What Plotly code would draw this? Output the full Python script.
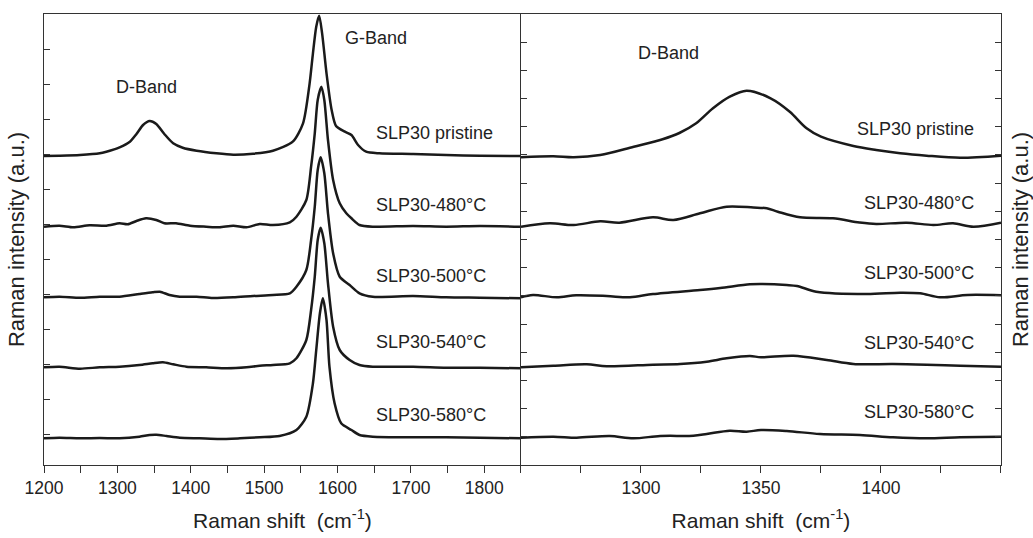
import plotly.graph_objects as go

# ---------------- Left panel (full spectrum) ----------------
x_pristine_L = [1200, 1221, 1249, 1276, 1285, 1303, 1317, 1326, 1335, 1344, 1353, 1364, 1376, 1389, 1408, 1435,
                1458, 1485, 1512, 1539, 1553, 1562, 1566.5, 1571, 1575, 1579, 1585, 1592, 1598, 1610, 1619, 1628,
                1639, 1657, 1703, 1748, 1794, 1850]
y_pristine_L = [309, 309.3, 310, 311.7, 313.3, 317.7, 323.3, 331, 340, 344, 341, 331, 321.7, 317.3, 314.3, 311.7,
                310.3, 311.3, 314.3, 323.3, 341.7, 381.7, 411.7, 438.3, 449.3, 431.7, 391.7, 355, 339, 333.3, 330, 320,
                313.3, 311.7, 311, 310, 309.3, 309]

x_480_L = [1200, 1221, 1240, 1262, 1285, 1303, 1314, 1326, 1339, 1353, 1364, 1380, 1399, 1421, 1439, 1458, 1476,
           1494, 1512, 1535, 1544, 1557.5, 1564, 1569, 1573, 1578, 1582, 1587, 1594, 1603, 1612, 1619, 1630, 1648,
           1703, 1748, 1794, 1850]
y_480_L = [238.3, 239.3, 237.7, 239.7, 239.3, 241.7, 240.7, 244, 246.7, 245, 241.7, 241.7, 239.3, 238.3, 237.7,
           239.3, 237.7, 241, 240, 242.7, 248.3, 265, 298.3, 331.7, 365, 378.3, 365, 325, 285, 261.7, 251.7, 246.7,
           240, 238.3, 239, 238.3, 239, 238.3]

x_500_L = [1200, 1221, 1249, 1276, 1303, 1330, 1348, 1358, 1371, 1385, 1408, 1430, 1458, 1485, 1512, 1535, 1544,
           1557.5, 1564, 1569, 1573, 1577, 1582, 1587, 1594, 1603, 1616.5, 1630, 1648, 1703, 1748, 1794, 1850]
y_500_L = [167.7, 168.3, 167.3, 168.3, 168.3, 171, 172.7, 173.3, 170, 168.3, 168.3, 167, 167.7, 169, 170, 171.7,
           178.3, 195, 225, 258.3, 295, 307.7, 291.7, 251.7, 211.7, 188.3, 180, 171.7, 168.3, 169, 167.7, 167.3, 166.7]

x_540_L = [1200, 1221, 1249, 1276, 1303, 1330, 1348, 1362, 1376, 1394, 1421, 1449, 1476, 1494, 1512, 1535, 1544,
           1557.5, 1564, 1569, 1573, 1577, 1582, 1587, 1594, 1603, 1616.5, 1630, 1648, 1703, 1748, 1794, 1850]
y_540_L = [97.7, 98.3, 96.3, 97.7, 98.3, 100, 101.7, 102.7, 100.7, 98.3, 97.7, 96.7, 97.7, 99.3, 100, 101.7,
           106.7, 125, 155, 188.3, 225, 237.3, 221.7, 181.7, 138.3, 115, 105, 100, 98.3, 98.3, 97.3, 97.3, 96.7]

x_580_L = [1200, 1221, 1249, 1276, 1303, 1330, 1344, 1353, 1367, 1385, 1412, 1439, 1467, 1494, 1521, 1544, 1557.5,
           1566.5, 1571, 1576, 1580, 1585, 1589, 1596, 1605, 1619, 1630, 1648, 1703, 1748, 1794, 1850]
y_580_L = [26.7, 27.3, 26.7, 27, 26.7, 28.3, 30, 30.3, 29, 27.3, 26.7, 26, 26.7, 27.7, 29, 35, 48.3,
           81.7, 115, 151.7, 166.7, 145, 98.3, 61.7, 41.7, 35, 30, 28.3, 27.7, 27.7, 27.3, 26.7]

# ---------------- Right panel (D-band zoom) ----------------
x_pristine_R = [1250, 1263.5, 1272, 1283, 1297, 1309, 1316, 1323, 1330, 1337, 1344, 1354, 1362, 1369, 1375,
                1388.5, 1398, 1408, 1419, 1433, 1450]
y_pristine_R = [307.7, 308.7, 307.7, 310, 318.3, 325.7, 332, 341.7, 356.7, 368.3, 374.3, 366.7, 353.3, 336.7, 328.3,
                319, 315, 311.7, 309.3, 307.3, 309.3]

x_480_R = [1250, 1262, 1272, 1283, 1291, 1305, 1313.5, 1324.6, 1335.7, 1346.8, 1352.4, 1357, 1366.3, 1380, 1391,
           1398, 1410.7, 1421.8, 1430, 1438.5, 1450]
y_480_R = [238.3, 241.7, 240, 243.7, 242.3, 247.7, 245, 251.7, 258.3, 257.5, 256.7, 253.3, 247.7, 246.7, 242.5,
           241, 242.3, 240, 241.7, 238.3, 242.3]

x_500_R = [1250, 1255, 1265, 1273, 1285.7, 1295.4, 1305, 1324.6, 1333, 1345.4, 1350.6, 1360.7, 1365, 1373, 1394,
           1408, 1416.3, 1424.6, 1436, 1450]
y_500_R = [167.7, 170, 167.7, 169.7, 169, 167.7, 171, 175, 177, 180.7, 181, 180, 179, 173.3, 171,
           172.3, 171.7, 167.7, 170, 169.7]

x_540_R = [1250, 1263.5, 1277.4, 1285.7, 1305, 1316.3, 1327.4, 1335.7, 1345.4, 1350, 1363.5, 1377.4, 1388.5, 1405,
           1419, 1433, 1450]
y_540_R = [97.7, 99.3, 100.7, 98.7, 100.3, 101, 103.3, 106.7, 109, 107.7, 109.3, 105, 101, 101,
           100.3, 99.3, 98.3]

x_580_R = [1250, 1263.5, 1273.2, 1287, 1296.8, 1308, 1321.8, 1327.4, 1337, 1344, 1350, 1360.7, 1374.6, 1391.2,
           1405, 1419, 1433, 1450]
y_580_R = [27.3, 28.3, 27.3, 29, 26.7, 29, 29.3, 31, 34.3, 33.3, 35, 34, 31, 30,
           27.7, 26.7, 27.7, 28.3]

sample_names = ["SLP30 pristine", "SLP30-480°C", "SLP30-500°C", "SLP30-540°C", "SLP30-580°C"]
left_series = [(x_pristine_L, y_pristine_L), (x_480_L, y_480_L), (x_500_L, y_500_L),
               (x_540_L, y_540_L), (x_580_L, y_580_L)]
right_series = [(x_pristine_R, y_pristine_R), (x_480_R, y_480_R), (x_500_R, y_500_R),
                (x_540_R, y_540_R), (x_580_R, y_580_R)]

# label anchor positions (data coords of each panel)
label_y_left = [331.7, 260, 189, 123.3, 50]
label_y_right = [336, 262, 191.7, 122.3, 53.3]

LINE = "#1a1a1a"
AX = "#333333"
FONT = "Arial, Liberation Sans, sans-serif"

fig = go.Figure()
for name, (xs, ys) in zip(sample_names, left_series):
    fig.add_trace(go.Scatter(x=xs, y=ys, mode="lines", name=name, xaxis="x", yaxis="y",
                             line=dict(color=LINE, width=2.5, shape="spline", smoothing=0.7),
                             showlegend=False, hoverinfo="skip"))
for name, (xs, ys) in zip(sample_names, right_series):
    fig.add_trace(go.Scatter(x=xs, y=ys, mode="lines", name=name, xaxis="x2", yaxis="y2",
                             line=dict(color=LINE, width=2.5, shape="spline", smoothing=0.9),
                             showlegend=False, hoverinfo="skip"))

annotations = []
for name, yy in zip(sample_names, label_y_left):
    annotations.append(dict(x=1650, y=yy, xref="x", yref="y", text=name, showarrow=False,
                            xanchor="left", yanchor="middle", font=dict(size=18, color="#222", family=FONT)))
for name, yy in zip(sample_names, label_y_right):
    annotations.append(dict(x=1439.6, y=yy, xref="x2", yref="y2", text=name, showarrow=False,
                            xanchor="right", yanchor="middle", font=dict(size=18, color="#222", family=FONT)))
annotations.append(dict(x=1339, y=378.3, xref="x", yref="y", text="D-Band", showarrow=False,
                        xanchor="center", yanchor="middle", font=dict(size=18, color="#222", family=FONT)))
annotations.append(dict(x=1607, y=427.3, xref="x", yref="y", text="G-Band", showarrow=False,
                        xanchor="left", yanchor="middle", font=dict(size=18, color="#222", family=FONT)))
annotations.append(dict(x=1311.5, y=412.3, xref="x2", yref="y2", text="D-Band", showarrow=False,
                        xanchor="center", yanchor="middle", font=dict(size=18, color="#222", family=FONT)))

split = 0.4984
xtitle = "Raman shift&nbsp; (cm<sup>-1</sup>)"
ytitle = "Raman intensity (a.u.)"
tickfont = dict(size=17.5, color="#222", family=FONT)
titlefont = dict(size=21, color="#222", family=FONT)
ytitlefont = dict(size=22, color="#222", family=FONT)

fig.update_layout(
    width=1033, height=538,
    margin=dict(l=44, r=32, t=14, b=73, pad=0),
    paper_bgcolor="white", plot_bgcolor="white",
    font=dict(family=FONT, color="#222"),
    annotations=annotations,
    xaxis=dict(domain=[0, split], range=[1200, 1850], anchor="y", automargin=False,
               tickvals=[1200, 1300, 1400, 1500, 1600, 1700, 1800],
               ticks="outside", ticklen=7, tickcolor=AX, tickwidth=1,
               minor=dict(tick0=1200, dtick=50, ticks="outside", ticklen=7, tickcolor=AX, showgrid=False),
               showline=True, linecolor=AX, linewidth=1, mirror=True,
               showgrid=False, zeroline=False, tickfont=tickfont,
               title=dict(text=xtitle, font=titlefont, standoff=16)),
    yaxis=dict(domain=[0, 1], range=[0, 451], anchor="x", automargin=False,
               tick0=31, dtick=35, ticks="inside", ticklen=6, tickcolor=AX,
               showticklabels=False, showline=True, linecolor=AX, linewidth=1, mirror=False,
               showgrid=False, zeroline=False,
               title=dict(text=ytitle, font=ytitlefont, standoff=12)),
    xaxis3=dict(overlaying="x", side="top", anchor="y", range=[1200, 1850], automargin=False,
                tick0=1200, dtick=50, ticks="inside", ticklen=5, tickcolor=AX,
                showticklabels=False, showline=False, showgrid=False, zeroline=False),
    xaxis2=dict(domain=[split, 1], range=[1250, 1450], anchor="y2", automargin=False,
                tickvals=[1300, 1350, 1400],
                ticks="outside", ticklen=7, tickcolor=AX, tickwidth=1,
                minor=dict(tick0=1250, dtick=25, ticks="outside", ticklen=7, tickcolor=AX, showgrid=False),
                showline=True, linecolor=AX, linewidth=1, mirror=True,
                showgrid=False, zeroline=False, tickfont=tickfont,
                title=dict(text=xtitle, font=titlefont, standoff=16)),
    yaxis2=dict(domain=[0, 1], range=[0, 451], anchor="x2", side="right", automargin=False,
                tick0=0, dtick=28.19, ticks="inside", ticklen=6, tickcolor=AX,
                showticklabels=False, showline=True, linecolor=AX, linewidth=1, mirror="ticks",
                showgrid=False, zeroline=False,
                title=dict(text=ytitle, font=ytitlefont, standoff=12)),
    xaxis4=dict(overlaying="x2", side="top", anchor="y2", range=[1250, 1450], automargin=False,
                tick0=1250, dtick=25, ticks="inside", ticklen=5, tickcolor=AX,
                showticklabels=False, showline=False, showgrid=False, zeroline=False),
)

fig.write_html("out.html")
